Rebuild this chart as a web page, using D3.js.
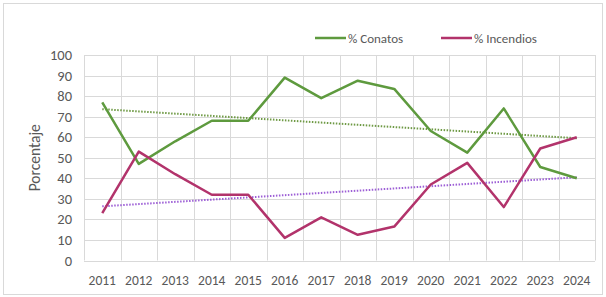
<!DOCTYPE html>
<html>
<head>
<meta charset="utf-8">
<script src="https://cdn.jsdelivr.net/npm/d3@7"></script>
<style>
  body { margin: 0; background: #fff; }
  svg text { font-family: Carlito, Calibri, "Open Sans", sans-serif; fill: #595959; }
</style>
</head>
<body>
<div id="chart"></div>
<script>
// Data
const years = ['2011','2012','2013','2014','2015','2016','2017','2018','2019','2020','2021','2022','2023','2024'];
const conatos = [77, 47, 58, 68, 68, 89, 79, 87.5, 83.5, 63, 52.5, 74, 45.5, 40];
const incendios = [23, 53, 42, 32, 32, 11, 21, 12.5, 16.5, 37, 47.5, 26, 54.5, 60];
const yTicks = [0, 10, 20, 30, 40, 50, 60, 70, 80, 90, 100];

const width = 606, height = 297;
const margin = { top: 55, right: 11, bottom: 36.5, left: 84 };

const svg = d3.select('#chart').append('svg')
    .attr('width', width)
    .attr('height', height);

// outer frame
svg.append('rect')
    .attr('x', 3.5).attr('y', 3.5)
    .attr('width', width - 7).attr('height', height - 6)
    .attr('fill', '#fff')
    .attr('stroke', '#d9d9d9');

const x = d3.scaleBand()
    .domain(years)
    .range([margin.left, width - margin.right]);

const y = d3.scaleLinear()
    .domain([0, 100])
    .range([height - margin.bottom, margin.top]);

// grid lines
svg.append('g')
    .selectAll('line')
    .data(yTicks)
    .enter()
    .append('line')
    .attr('x1', margin.left).attr('x2', width - margin.right)
    .attr('y1', d => Math.round(y(d)) + 0.5).attr('y2', d => Math.round(y(d)) + 0.5)
    .attr('stroke', '#d9d9d9');

const vLines = years.map(d => x(d)).concat([x.range()[1]]);
svg.append('g')
    .selectAll('line')
    .data(vLines)
    .enter()
    .append('line')
    .attr('x1', d => Math.round(d) + 0.5).attr('x2', d => Math.round(d) + 0.5)
    .attr('y1', y(0)).attr('y2', y(100))
    .attr('stroke', '#d9d9d9');

// axis labels
svg.append('g')
    .selectAll('text')
    .data(yTicks)
    .enter()
    .append('text')
    .attr('x', 72)
    .attr('y', d => y(d) + 5)
    .attr('text-anchor', 'end')
    .style('font-size', '14.5px')
    .text(d => d);

svg.append('g')
    .selectAll('text')
    .data(years)
    .enter()
    .append('text')
    .attr('x', d => x(d) + x.bandwidth() / 2)
    .attr('y', 285)
    .attr('text-anchor', 'middle')
    .style('font-size', '13.5px')
    .text(d => d);

svg.append('text')
    .attr('transform', `translate(40,${(y(0) + y(100)) / 2}) rotate(-90)`)
    .attr('text-anchor', 'middle')
    .style('font-size', '15.5px')
    .text('Porcentaje');

const cx = d => x(d) + x.bandwidth() / 2;

// linear trend (least squares), like the spreadsheet trendline
function trend(values) {
    const xs = values.map((v, i) => i);
    const mx = d3.mean(xs), my = d3.mean(values);
    const sxy = d3.sum(xs, (xi, i) => (xi - mx) * (values[i] - my));
    const sxx = d3.sum(xs, xi => (xi - mx) * (xi - mx));
    const b = sxy / sxx, a = my - b * mx;
    return values.map((v, i) => a + b * i);
}

const line = d3.line()
    .x((d, i) => cx(years[i]))
    .y(d => y(d));

svg.append('path')
    .attr('d', line(trend(conatos)))
    .attr('fill', 'none')
    .attr('stroke', '#6f9a45')
    .attr('stroke-width', 2)
    .attr('stroke-dasharray', '1.5,1.5');

svg.append('path')
    .attr('d', line(trend(incendios)))
    .attr('fill', 'none')
    .attr('stroke', '#9d5fd6')
    .attr('stroke-width', 2)
    .attr('stroke-dasharray', '1.5,1.5');

svg.append('path')
    .attr('d', line(conatos))
    .attr('fill', 'none')
    .attr('stroke', '#5e9a3e')
    .attr('stroke-width', 2.5)
    .attr('stroke-linejoin', 'round');

svg.append('path')
    .attr('d', line(incendios))
    .attr('fill', 'none')
    .attr('stroke', '#b2336b')
    .attr('stroke-width', 2.5)
    .attr('stroke-linejoin', 'round');

// legend
const legend = [
    { name: '% Conatos', color: '#5e9a3e', x: 315 },
    { name: '% Incendios', color: '#b2336b', x: 441 }
];
const lg = svg.append('g')
    .selectAll('g')
    .data(legend)
    .enter()
    .append('g')
    .attr('transform', d => `translate(${d.x},38)`);
lg.append('line')
    .attr('x1', 0).attr('x2', 31)
    .attr('stroke', d => d.color)
    .attr('stroke-width', 2.5);
lg.append('text')
    .attr('x', 33)
    .attr('y', 4.5)
    .style('font-size', '13px')
    .text(d => d.name);
</script>
</body>
</html>
